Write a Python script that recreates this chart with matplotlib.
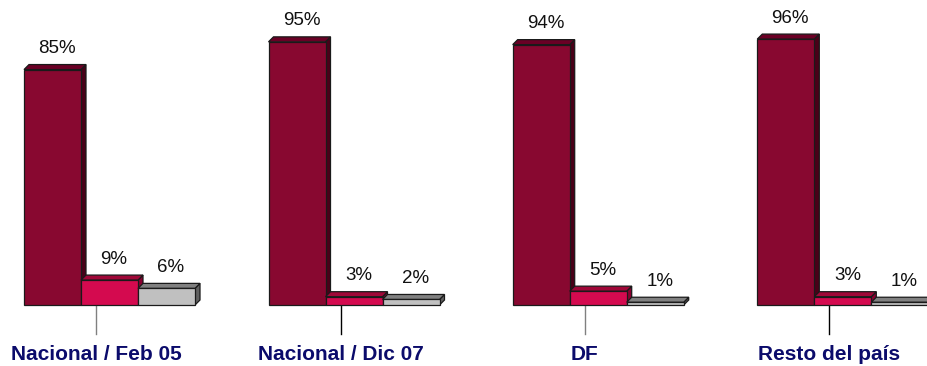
import matplotlib
matplotlib.use("Agg")
import matplotlib.pyplot as plt
from matplotlib.patches import Polygon

plt.rcParams['font.family'] = ['Liberation Sans', 'DejaVu Sans']

categories = ["Nacional / Feb 05", "Nacional / Dic 07", "DF", "Resto del país"]
serie_1 = [85, 95, 94, 96]
serie_2 = [9, 3, 5, 3]
serie_3 = [6, 2, 1, 1]
labels_1 = ["85%", "95%", "94%", "96%"]
labels_2 = ["9%", "3%", "5%", "3%"]
labels_3 = ["6%", "2%", "1%", "1%"]

front = ["#880830", "#d40a4f", "#c0c0c0"]
top = ["#6a0025", "#a00838", "#808080"]
side = ["#4a0018", "#8a0030", "#606060"]
tick_colors = ["#808080", "#000000", "#808080", "#000000"]
label_color = "#0b0b6b"

W, H = 927, 366
fig = plt.figure(figsize=(W / 100, H / 100), dpi=100)

panel_left = [24, 268.5, 512.7, 757.3]
bar_px = 57.0
base_px = 305
top_px = 305 - 277  # pixel row for 100 %
dx = 5 / bar_px           # depth in x data units
dy = 5 / 2.77             # depth in y data units

for p, cat in enumerate(categories):
    ax = fig.add_axes([panel_left[p] / W, (H - base_px) / H,
                       3 * bar_px / W, (base_px - top_px) / H])
    ax.set_xlim(0, 3)
    ax.set_ylim(0, 100)
    ax.axis('off')
    vals = [serie_1[p], serie_2[p], serie_3[p]]
    labs = [labels_1[p], labels_2[p], labels_3[p]]
    for i, v in enumerate(vals):
        x0, x1 = i, i + 1
        # side face
        ax.add_patch(Polygon([(x1, 0), (x1 + dx, dy), (x1 + dx, v + dy), (x1, v)],
                             closed=True, facecolor=side[i], edgecolor='#1a1a1a',
                             linewidth=0.9, clip_on=False, zorder=2 + i))
        # top face
        ax.add_patch(Polygon([(x0, v), (x0 + dx, v + dy), (x1 + dx, v + dy), (x1, v)],
                             closed=True, facecolor=top[i], edgecolor='#1a1a1a',
                             linewidth=0.9, clip_on=False, zorder=2 + i))
        # front face
        ax.add_patch(Polygon([(x0, 0), (x0, v), (x1, v), (x1, 0)],
                             closed=True, facecolor=front[i], edgecolor='#1a1a1a',
                             linewidth=0.9, clip_on=False, zorder=2 + i))
        ax.annotate(labs[i], xy=(i + 0.5 + 0.08, v + dy), xytext=(0, 16),
                    textcoords='offset pixels', ha='center', va='center',
                    fontsize=13.5, color='#111111', annotation_clip=False)
    tick_x = 72 / bar_px
    ax.plot([tick_x, tick_x], [0, -29 / 2.77], color=tick_colors[p],
            linewidth=1.0, clip_on=False, zorder=1)
    ax.annotate(cat, xy=(tick_x, 0), xytext=(0, -50), textcoords='offset pixels',
                ha='center', va='center', fontsize=15, fontweight='bold',
                color=label_color, annotation_clip=False)

fig.savefig("out.png", dpi=100)
